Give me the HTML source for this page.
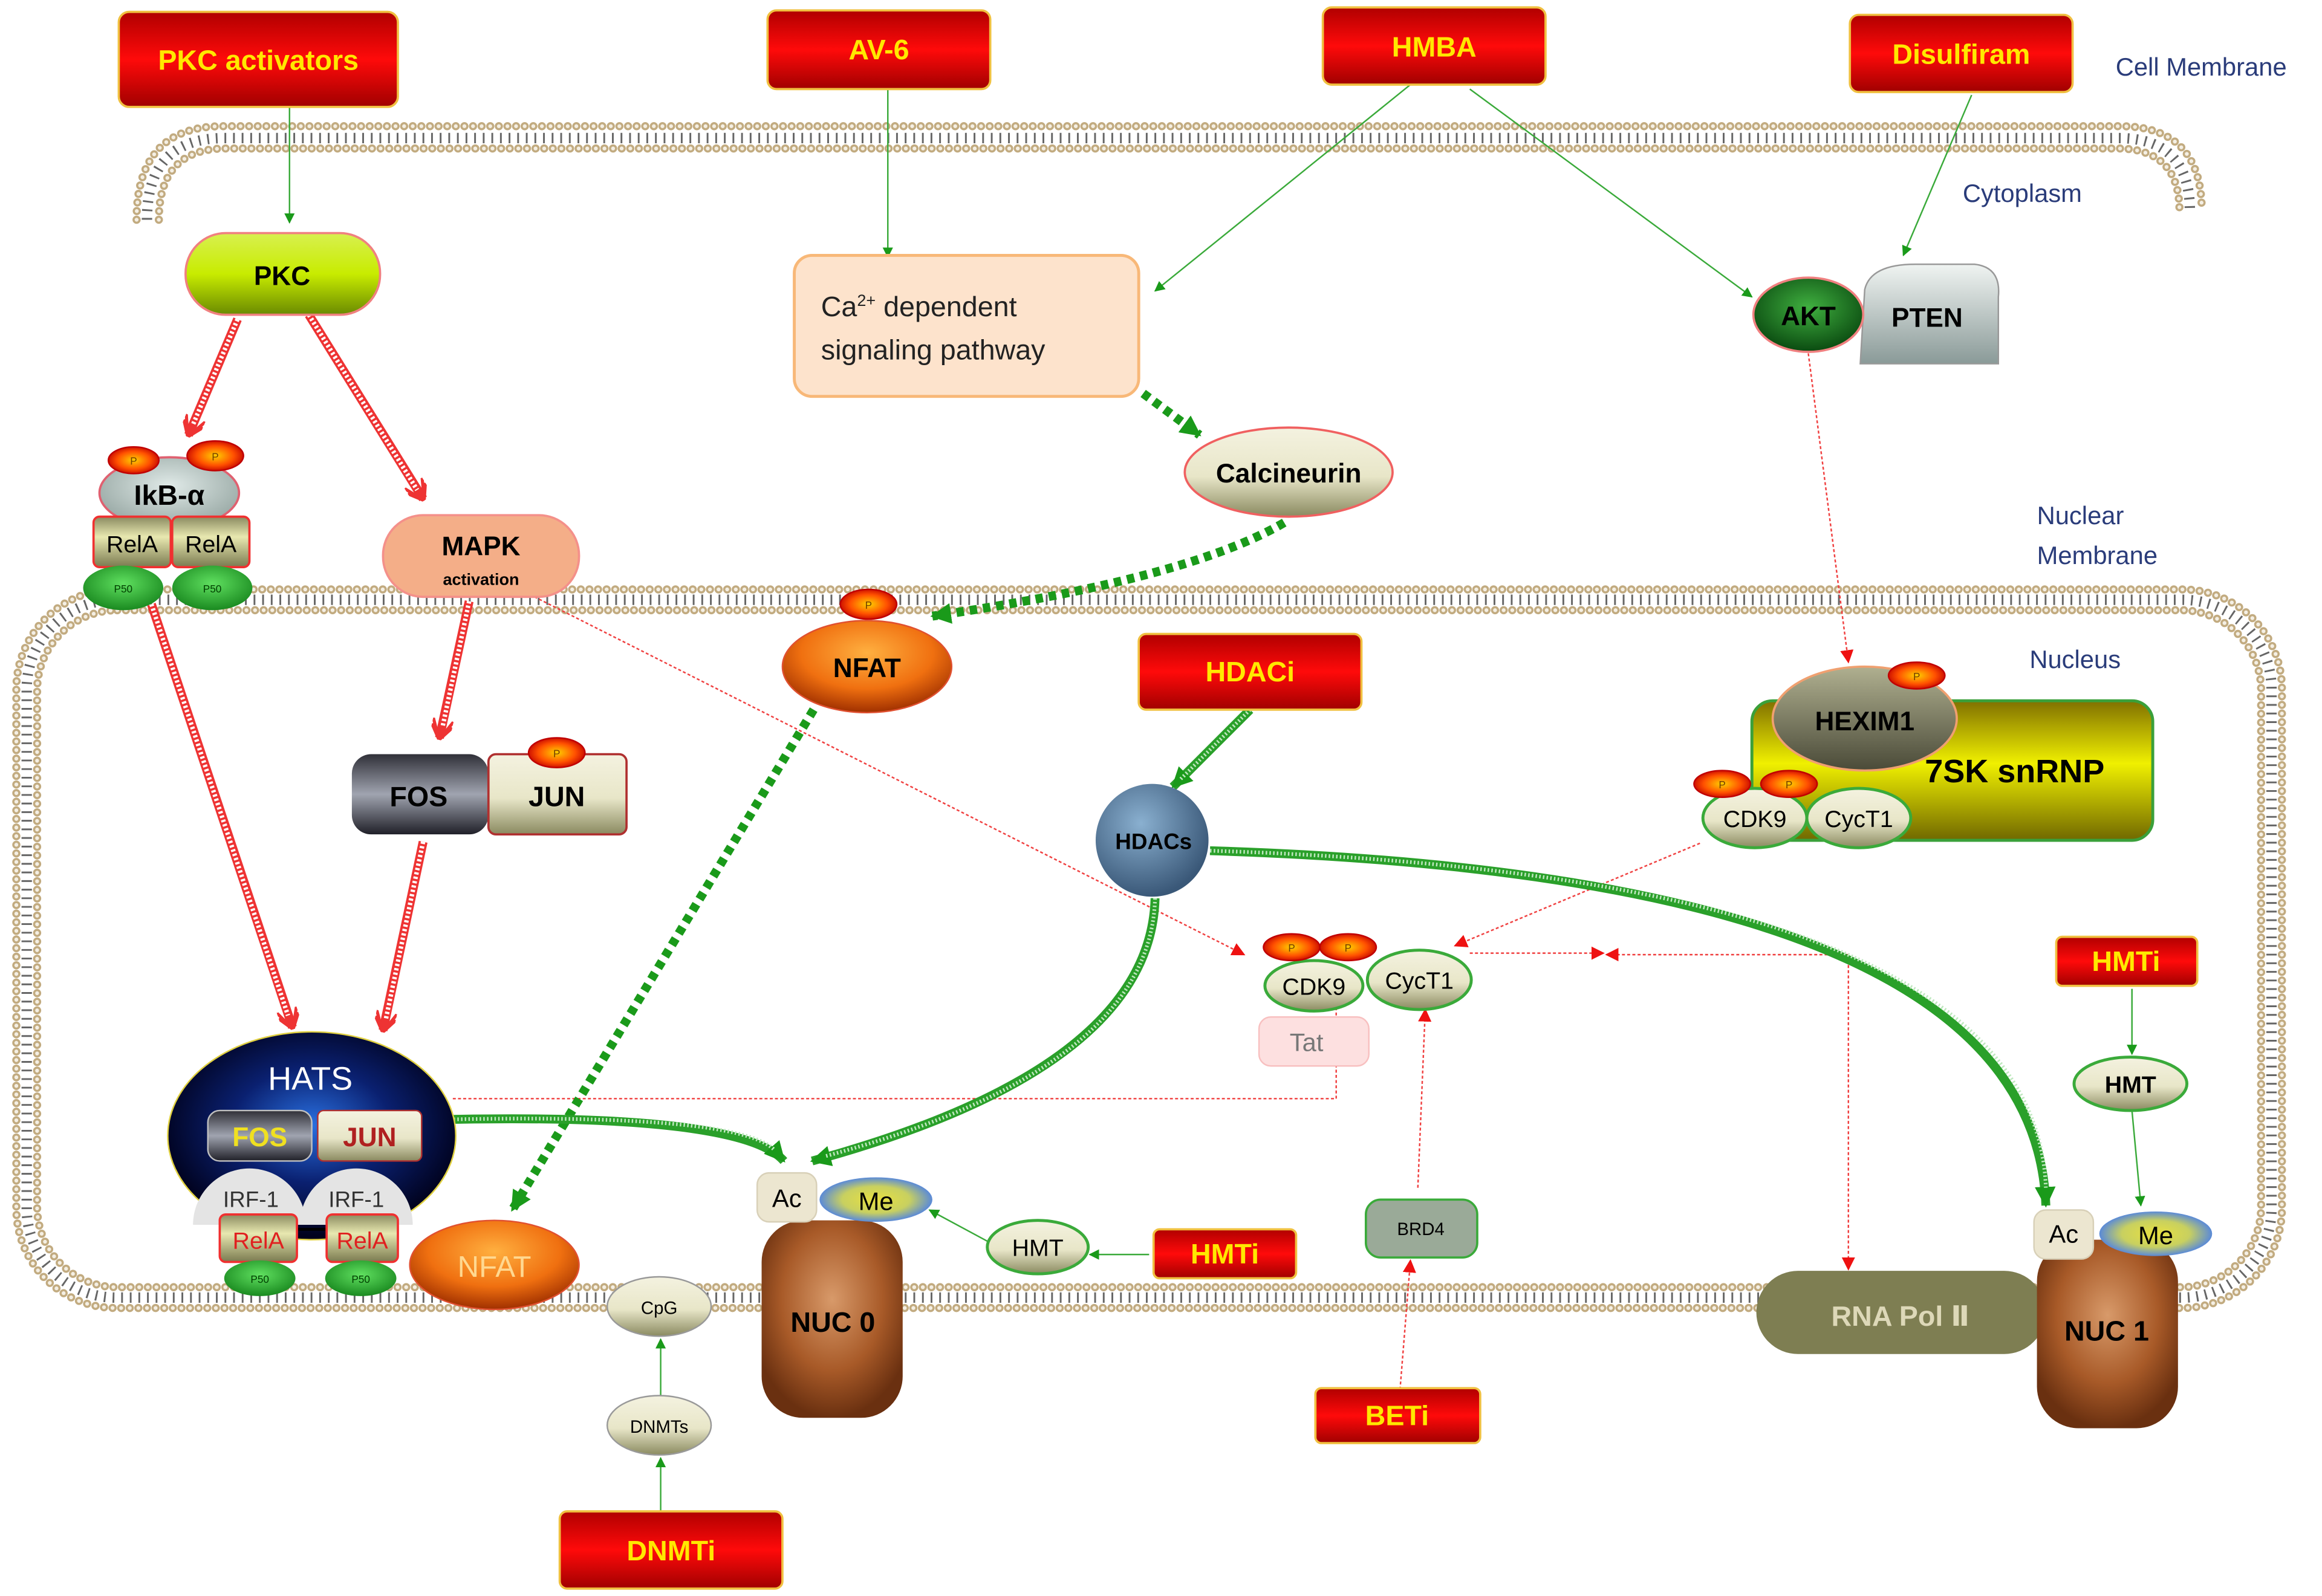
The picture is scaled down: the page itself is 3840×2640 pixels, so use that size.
<!DOCTYPE html>
<html><head><meta charset="utf-8"><style>
html,body{margin:0;padding:0;background:#fff;width:3840px;height:2640px;overflow:hidden}
svg{display:block}
text{font-family:"Liberation Sans","DejaVu Sans",sans-serif}
</style></head><body>
<svg width="3840" height="2640" viewBox="0 0 1564 1075" preserveAspectRatio="none" xmlns="http://www.w3.org/2000/svg">
<defs>
<linearGradient id="red" x1="0" y1="0" x2="0" y2="1"><stop offset="0" stop-color="#b00000"/><stop offset=".5" stop-color="#ff0a0a"/><stop offset="1" stop-color="#a00000"/></linearGradient>
<linearGradient id="pkc" x1="0" y1="0" x2="0" y2="1"><stop offset="0" stop-color="#d8f050"/><stop offset=".5" stop-color="#c8ec00"/><stop offset="1" stop-color="#6a8a00"/></linearGradient>
<linearGradient id="cream" x1="0" y1="0" x2="0" y2="1"><stop offset="0" stop-color="#f4f2e0"/><stop offset=".55" stop-color="#e8e6c8"/><stop offset="1" stop-color="#8a8a60"/></linearGradient>
<linearGradient id="rela" x1="0" y1="0" x2="0" y2="1"><stop offset="0" stop-color="#8a8a60"/><stop offset=".4" stop-color="#e8e8b0"/><stop offset="1" stop-color="#7a7a50"/></linearGradient>
<radialGradient id="green" cx=".5" cy=".4" r=".6"><stop offset="0" stop-color="#60e060"/><stop offset="1" stop-color="#1a8a20"/></radialGradient>
<radialGradient id="pp" cx=".5" cy=".5" r=".55"><stop offset="0" stop-color="#ffd000"/><stop offset=".6" stop-color="#ff5000"/><stop offset="1" stop-color="#c00000"/></radialGradient>
<radialGradient id="orange" cx=".5" cy=".35" r=".65"><stop offset="0" stop-color="#ffb040"/><stop offset=".6" stop-color="#f07010"/><stop offset="1" stop-color="#a03000"/></radialGradient>
<radialGradient id="gray" cx=".5" cy=".4" r=".6"><stop offset="0" stop-color="#e0eae8"/><stop offset="1" stop-color="#98a8a4"/></radialGradient>
<linearGradient id="hex" x1="0" y1="0" x2="0" y2="1"><stop offset="0" stop-color="#b0b090"/><stop offset="1" stop-color="#4a4a38"/></linearGradient>
<linearGradient id="yel" x1="0" y1="0" x2="0" y2="1"><stop offset="0" stop-color="#807000"/><stop offset=".45" stop-color="#f0f000"/><stop offset="1" stop-color="#706800"/></linearGradient>
<radialGradient id="hats" cx=".5" cy=".45" r=".55"><stop offset="0" stop-color="#2a70e0"/><stop offset=".5" stop-color="#0a2070"/><stop offset="1" stop-color="#000018"/></radialGradient>
<linearGradient id="fos" x1="0" y1="0" x2="0" y2="1"><stop offset="0" stop-color="#303038"/><stop offset=".5" stop-color="#a0a4b0"/><stop offset="1" stop-color="#202028"/></linearGradient>
<radialGradient id="nuc" cx=".5" cy=".4" r=".6"><stop offset="0" stop-color="#d89a6a"/><stop offset=".6" stop-color="#a85a28"/><stop offset="1" stop-color="#6a3010"/></radialGradient>
<radialGradient id="me" cx=".5" cy=".5" r=".5"><stop offset="0" stop-color="#e8e040"/><stop offset=".6" stop-color="#c8d060"/><stop offset="1" stop-color="#5a8ad8"/></radialGradient>
<radialGradient id="hdac" cx=".4" cy=".35" r=".65"><stop offset="0" stop-color="#8ab0d0"/><stop offset="1" stop-color="#3a5878"/></radialGradient>
<linearGradient id="pten" x1="0" y1="0" x2="0" y2="1"><stop offset="0" stop-color="#f0f4f2"/><stop offset="1" stop-color="#8a9a98"/></linearGradient>
<radialGradient id="akt" cx=".5" cy=".4" r=".6"><stop offset="0" stop-color="#40b040"/><stop offset="1" stop-color="#0a4a10"/></radialGradient>
<marker id="ag" viewBox="0 0 10 10" refX="9" refY="5" markerWidth="7" markerHeight="7" orient="auto" markerUnits="userSpaceOnUse"><path d="M0,0L10,5L0,10z" fill="#1a9a1a"/></marker>
<marker id="ag2" viewBox="0 0 10 10" refX="9" refY="5" markerWidth="14" markerHeight="14" orient="auto" markerUnits="userSpaceOnUse"><path d="M0,0L10,5L0,10z" fill="#1a9a1a"/></marker>
<marker id="ar" viewBox="0 0 10 10" refX="9" refY="5" markerWidth="9" markerHeight="9" orient="auto" markerUnits="userSpaceOnUse"><path d="M0,0L10,5L0,10z" fill="#ee1111"/></marker>
<marker id="arh" viewBox="0 0 10 10" refX="9" refY="5" markerWidth="14" markerHeight="14" orient="auto" markerUnits="userSpaceOnUse"><path d="M0,0L10,5L0,10M3,0L10,5L3,10" fill="none" stroke="#e33" stroke-width="1.5"/></marker>
</defs>

<!-- membranes -->
<g fill="none">
 <path d="M99 148 Q99 93 151 93 L1427 93 Q1475 93 1475 142" stroke="#666" stroke-width="7" stroke-dasharray="1.2 4.6"/>
 <path d="M92 148 Q92 85 150 85 L1428 85 Q1483 85 1483 142" stroke="#c2ab80" stroke-width="5.5" stroke-dasharray="0 5.8" stroke-linecap="round"/>
 <path d="M92 148 Q92 85 150 85 L1428 85 Q1483 85 1483 142" stroke="#f4efe4" stroke-width="2.6" stroke-dasharray="0 5.8" stroke-linecap="round"/>
 <path d="M107 148 Q107 100 152 100 L1426 100 Q1468 100 1468 142" stroke="#c2ab80" stroke-width="5.5" stroke-dasharray="0 5.8" stroke-linecap="round"/>
 <path d="M107 148 Q107 100 152 100 L1426 100 Q1468 100 1468 142" stroke="#f4efe4" stroke-width="2.6" stroke-dasharray="0 5.8" stroke-linecap="round"/>

 <rect x="18" y="404" width="1512" height="470" rx="60" stroke="#666" stroke-width="7" stroke-dasharray="1.2 4.6"/>
 <rect x="11" y="397" width="1526" height="484" rx="67" stroke="#c2ab80" stroke-width="5.5" stroke-dasharray="0 5.8" stroke-linecap="round"/>
 <rect x="11" y="397" width="1526" height="484" rx="67" stroke="#f4efe4" stroke-width="2.6" stroke-dasharray="0 5.8" stroke-linecap="round"/>
 <rect x="25" y="411" width="1498" height="456" rx="54" stroke="#c2ab80" stroke-width="5.5" stroke-dasharray="0 5.8" stroke-linecap="round"/>
 <rect x="25" y="411" width="1498" height="456" rx="54" stroke="#f4efe4" stroke-width="2.6" stroke-dasharray="0 5.8" stroke-linecap="round"/>
</g>

<!-- labels -->
<g fill="#2a3c7a" font-size="17">
<text x="1425" y="51">Cell Membrane</text>
<text x="1322" y="136">Cytoplasm</text>
<text x="1372" y="353">Nuclear</text>
<text x="1372" y="380">Membrane</text>
<text x="1367" y="450">Nucleus</text>
</g>

<!-- connectors: thin green -->
<g stroke="#3aaa3a" stroke-width="1" fill="none" marker-end="url(#ag)">
<line x1="195" y1="72" x2="195" y2="150"/>
<line x1="598" y1="60" x2="598" y2="173"/>
<line x1="950" y1="57" x2="778" y2="196"/>
<line x1="990" y1="60" x2="1180" y2="200"/>
<line x1="1328" y1="64" x2="1282" y2="172"/>
<line x1="1436" y1="666" x2="1436" y2="710"/>
<line x1="1436" y1="748" x2="1442" y2="812"/>
<line x1="774" y1="845" x2="734" y2="845"/>
<line x1="665" y1="836" x2="626" y2="815"/>
<line x1="445" y1="1018" x2="445" y2="982"/>
<line x1="445" y1="940" x2="445" y2="902"/>
</g>
<!-- red dotted -->
<g stroke="#f04040" stroke-width="1" fill="none" stroke-dasharray="2 1.5" marker-end="url(#ar)">
<line x1="1218" y1="238" x2="1245" y2="446"/>
<line x1="360" y1="402" x2="838" y2="643"/>
<line x1="1145" y1="568" x2="980" y2="637"/>
<line x1="990" y1="642" x2="1080" y2="642"/>
<line x1="1245" y1="643" x2="1082" y2="643"/>
<polyline points="1245,643 1245,855"/>
<line x1="955" y1="800" x2="960" y2="680"/>
<line x1="943" y1="936" x2="950" y2="849"/>
<polyline points="305,740 900,740 900,668" marker-end="none"/>
</g>
<!-- hatched red arrows -->
<g fill="none" marker-end="url(#arh)">
<g stroke="#e33" stroke-width="6"><path d="M160 215 L127 293"/><path d="M208 212 L285 336"/><path d="M102 407 L197 692"/><path d="M316 405 L296 497"/><path d="M285 567 L258 694"/></g>
</g>
<g fill="none" stroke="#fff" stroke-width="3" stroke-dasharray="1.5 1.5"><path d="M160 215 L130 286"/><path d="M208 212 L281 330"/><path d="M102 407 L194 684"/><path d="M316 405 L298 490"/><path d="M285 567 L260 686"/></g>
<!-- thick green dotted -->
<g stroke="#1a9a1a" stroke-width="6" stroke-dasharray="5 4" fill="none" marker-end="url(#ag2)">
<path d="M770 265 L808 293"/>
<path d="M865 352 Q800 390 628 415"/>
<path d="M548 478 L345 815"/>
</g>
<!-- thick green striped -->
<g fill="none" stroke-width="6" marker-end="url(#ag2)">
<path d="M842 478 L790 530" stroke="#2aa02a"/>
<path d="M778 605 Q775 720 547 782" stroke="#2aa02a"/>
<path d="M815 573 Q1370 590 1378 812" stroke="#2aa02a"/>
<path d="M303 754 Q500 750 528 782" stroke="#2aa02a"/>
</g>
<g fill="none" stroke="#bfe8bf" stroke-width="2.5" stroke-dasharray="1 1.5">
<path d="M842 478 L795 525"/><path d="M778 605 Q775 720 555 779"/><path d="M815 573 Q1370 590 1378 800"/><path d="M303 754 Q500 750 522 775"/>
</g>

<!-- red boxes -->
<g stroke="#f0c040" stroke-width="1.5">
<rect x="80" y="8" width="188" height="64" rx="7" fill="url(#red)"/>
<rect x="517" y="7" width="150" height="53" rx="6" fill="url(#red)"/>
<rect x="891" y="5" width="150" height="52" rx="6" fill="url(#red)"/>
<rect x="1246" y="10" width="150" height="52" rx="6" fill="url(#red)"/>
<rect x="767" y="427" width="150" height="51" rx="5" fill="url(#red)"/>
<rect x="1385" y="631" width="95" height="33" rx="4" fill="url(#red)"/>
<rect x="777" y="828" width="96" height="33" rx="4" fill="url(#red)"/>
<rect x="886" y="935" width="111" height="37" rx="4" fill="url(#red)"/>
<rect x="377" y="1018" width="150" height="52" rx="5" fill="url(#red)"/>
</g>
<g fill="#ffe800" font-weight="bold" font-size="19" text-anchor="middle">
<text x="174" y="47">PKC activators</text>
<text x="592" y="40">AV-6</text>
<text x="966" y="38">HMBA</text>
<text x="1321" y="43">Disulfiram</text>
<text x="842" y="459">HDACi</text>
<text x="1432" y="654">HMTi</text>
<text x="825" y="851">HMTi</text>
<text x="941" y="960">BETi</text>
<text x="452" y="1051">DNMTi</text>
</g>

<!-- PKC -->
<rect x="125" y="157" width="131" height="55" rx="27" fill="url(#pkc)" stroke="#f08080" stroke-width="1.5"/>
<text x="190" y="192" font-size="18" font-weight="bold" text-anchor="middle">PKC</text>
<!-- Ca box -->
<rect x="535" y="172" width="232" height="95" rx="12" fill="#fde3cc" stroke="#f8b878" stroke-width="2"/>
<text x="553" y="213" font-size="19" fill="#222">Ca<tspan dy="-7" font-size="11">2+</tspan><tspan dy="7"> dependent</tspan></text>
<text x="553" y="242" font-size="19" fill="#222">signaling pathway</text>
<!-- Calcineurin -->
<ellipse cx="868" cy="318" rx="70" ry="30" fill="url(#cream)" stroke="#f06060" stroke-width="1.5"/>
<text x="868" y="325" font-size="18" font-weight="bold" text-anchor="middle">Calcineurin</text>
<!-- AKT PTEN -->
<path d="M1253 245 L1256 195 Q1260 178 1290 178 L1330 178 Q1348 180 1346 200 L1346 245 Z" fill="url(#pten)" stroke="#999"/>
<text x="1298" y="220" font-size="18" font-weight="bold" text-anchor="middle">PTEN</text>
<ellipse cx="1218" cy="212" rx="37" ry="25" fill="url(#akt)" stroke="#f08080" stroke-width="1.5"/>
<text x="1218" y="219" font-size="18" font-weight="bold" text-anchor="middle">AKT</text>

<!-- IkB complex -->
<ellipse cx="114" cy="332" rx="47" ry="24" fill="url(#gray)" stroke="#e06070" stroke-width="1.5"/>
<text x="114" y="340" font-size="19" font-weight="bold" text-anchor="middle">IkB-α</text>
<rect x="63" y="348" width="52" height="34" rx="4" fill="url(#rela)" stroke="#f03030" stroke-width="1.5"/>
<rect x="116" y="348" width="52" height="34" rx="4" fill="url(#rela)" stroke="#f03030" stroke-width="1.5"/>
<text x="89" y="372" font-size="16" text-anchor="middle">RelA</text>
<text x="142" y="372" font-size="16" text-anchor="middle">RelA</text>
<ellipse cx="83" cy="396" rx="27" ry="15" fill="url(#green)"/>
<ellipse cx="143" cy="396" rx="27" ry="15" fill="url(#green)"/>
<!-- MAPK -->
<rect x="258" y="347" width="132" height="55" rx="27" fill="#f4ae88" stroke="#f4908a" stroke-width="1.5"/>
<text x="324" y="374" font-size="18" font-weight="bold" text-anchor="middle">MAPK</text>
<text x="324" y="394" font-size="11" font-weight="bold" text-anchor="middle">activation</text>
<!-- NFAT top -->
<ellipse cx="584" cy="449" rx="57" ry="31" fill="url(#orange)" stroke="#e05030"/>
<text x="584" y="456" font-size="18" font-weight="bold" text-anchor="middle">NFAT</text>
<!-- HEXIM / 7SK -->
<rect x="1180" y="472" width="270" height="94" rx="14" fill="url(#yel)" stroke="#3aa03a" stroke-width="2"/>
<text x="1357" y="527" font-size="22" font-weight="bold" text-anchor="middle">7SK snRNP</text>
<ellipse cx="1256" cy="484" rx="62" ry="35" fill="url(#hex)" stroke="#f0a070" stroke-width="1.5"/>
<text x="1256" y="492" font-size="18" font-weight="bold" text-anchor="middle">HEXIM1</text>
<ellipse cx="1182" cy="551" rx="35" ry="20" fill="url(#cream)" stroke="#3aaa3a" stroke-width="2"/>
<ellipse cx="1252" cy="551" rx="35" ry="20" fill="url(#cream)" stroke="#3aaa3a" stroke-width="2"/>
<text x="1182" y="557" font-size="16" text-anchor="middle">CDK9</text>
<text x="1252" y="557" font-size="16" text-anchor="middle">CycT1</text>
<!-- FOS JUN -->
<rect x="237" y="508" width="92" height="54" rx="13" fill="url(#fos)"/>
<rect x="329" y="508" width="93" height="54" rx="5" fill="url(#cream)" stroke="#b03030" stroke-width="1.5"/>
<text x="282" y="543" font-size="19" font-weight="bold" text-anchor="middle">FOS</text>
<text x="375" y="543" font-size="19" font-weight="bold" text-anchor="middle">JUN</text>
<!-- HDACs -->
<circle cx="776" cy="566" r="38" fill="url(#hdac)"/>
<text x="777" y="572" font-size="15" font-weight="bold" text-anchor="middle">HDACs</text>
<!-- CDK9 center -->
<rect x="848" y="685" width="74" height="33" rx="8" fill="#fde0e0" stroke="#f8c0c0"/>
<text x="880" y="708" font-size="17" fill="#777" text-anchor="middle">Tat</text>
<ellipse cx="885" cy="664" rx="33" ry="17" fill="url(#cream)" stroke="#3aaa3a" stroke-width="2"/>
<ellipse cx="956" cy="660" rx="35" ry="20" fill="url(#cream)" stroke="#3aaa3a" stroke-width="2"/>
<text x="885" y="670" font-size="16" text-anchor="middle">CDK9</text>
<text x="956" y="666" font-size="16" text-anchor="middle">CycT1</text>
<!-- HMT right -->
<ellipse cx="1435" cy="730" rx="38" ry="18" fill="url(#cream)" stroke="#3aaa3a" stroke-width="2"/>
<text x="1435" y="736" font-size="16" font-weight="bold" text-anchor="middle">HMT</text>
<!-- HATS -->
<ellipse cx="210" cy="765" rx="97" ry="70" fill="url(#hats)" stroke="#e0d040" stroke-width="1"/>
<text x="209" y="734" font-size="22" fill="#fff" text-anchor="middle">HATS</text>
<rect x="140" y="748" width="70" height="34" rx="8" fill="url(#fos)" stroke="#c0c0c0"/>
<rect x="214" y="748" width="70" height="34" rx="4" fill="url(#cream)" stroke="#b03030"/>
<text x="175" y="772" font-size="18" font-weight="bold" fill="#f0e020" text-anchor="middle">FOS</text>
<text x="249" y="772" font-size="18" font-weight="bold" fill="#b02020" text-anchor="middle">JUN</text>
<path d="M130 825 A38 38 0 0 1 206 825 Z" fill="#e4e4e4"/>
<path d="M202 825 A38 38 0 0 1 278 825 Z" fill="#e4e4e4"/>
<text x="169" y="813" font-size="15" fill="#333" text-anchor="middle">IRF-1</text>
<text x="240" y="813" font-size="15" fill="#333" text-anchor="middle">IRF-1</text>
<line x1="200" y1="828" x2="220" y2="828" stroke="#000" stroke-width="2"/>
<rect x="148" y="818" width="52" height="32" rx="4" fill="url(#rela)" stroke="#f03030" stroke-width="1.5"/>
<rect x="220" y="818" width="48" height="32" rx="4" fill="url(#rela)" stroke="#f03030" stroke-width="1.5"/>
<text x="174" y="841" font-size="16" fill="#e02020" text-anchor="middle">RelA</text>
<text x="244" y="841" font-size="16" fill="#e02020" text-anchor="middle">RelA</text>
<ellipse cx="175" cy="861" rx="24" ry="12" fill="url(#green)"/>
<ellipse cx="243" cy="861" rx="24" ry="12" fill="url(#green)"/>
<!-- NFAT lower -->
<ellipse cx="333" cy="852" rx="57" ry="30" fill="url(#orange)" stroke="#e05030"/>
<text x="333" y="860" font-size="20" fill="#ffd890" text-anchor="middle">NFAT</text>
<!-- NUC0 -->
<rect x="513" y="822" width="95" height="133" rx="28" fill="url(#nuc)"/>
<text x="561" y="897" font-size="19" font-weight="bold" text-anchor="middle">NUC 0</text>
<rect x="510" y="790" width="40" height="33" rx="8" fill="#ece6d0" stroke="#d8d0b8"/>
<text x="530" y="813" font-size="17" text-anchor="middle">Ac</text>
<ellipse cx="590" cy="808" rx="38" ry="15" fill="url(#me)"/>
<text x="590" y="815" font-size="17" text-anchor="middle">Me</text>
<ellipse cx="699" cy="840" rx="34" ry="18" fill="url(#cream)" stroke="#3aaa3a" stroke-width="2"/>
<text x="699" y="846" font-size="16" text-anchor="middle">HMT</text>
<!-- CpG DNMTs -->
<ellipse cx="444" cy="880" rx="35" ry="20" fill="url(#cream)" stroke="#999"/>
<text x="444" y="885" font-size="12" text-anchor="middle">CpG</text>
<ellipse cx="444" cy="960" rx="35" ry="20" fill="url(#cream)" stroke="#999"/>
<text x="444" y="965" font-size="12" text-anchor="middle">DNMTs</text>
<!-- BRD4 -->
<rect x="920" y="808" width="75" height="39" rx="10" fill="#9aaa98" stroke="#3aaa3a" stroke-width="1.5"/>
<text x="957" y="832" font-size="12" text-anchor="middle">BRD4</text>
<!-- RNA pol / NUC1 -->
<rect x="1183" y="856" width="195" height="56" rx="28" fill="#7e7e52"/>
<text x="1280" y="893" font-size="19" font-weight="bold" fill="#ddd8b8" text-anchor="middle">RNA Pol Ⅱ</text>
<rect x="1372" y="835" width="95" height="127" rx="28" fill="url(#nuc)"/>
<text x="1419" y="903" font-size="19" font-weight="bold" text-anchor="middle">NUC 1</text>
<rect x="1370" y="815" width="40" height="33" rx="8" fill="#ece6d0" stroke="#d8d0b8"/>
<text x="1390" y="837" font-size="17" text-anchor="middle">Ac</text>
<ellipse cx="1452" cy="831" rx="38" ry="15" fill="url(#me)"/>
<text x="1452" y="838" font-size="17" text-anchor="middle">Me</text>

<!-- phosphates -->
<g fill="url(#pp)" stroke="#c00000">
<ellipse cx="90" cy="310" rx="17" ry="9"/><ellipse cx="145" cy="307" rx="19" ry="10"/>
<ellipse cx="585" cy="407" rx="19" ry="10"/>
<ellipse cx="375" cy="507" rx="19" ry="10"/>
<ellipse cx="1291" cy="455" rx="19" ry="9"/>
<ellipse cx="1160" cy="528" rx="19" ry="9"/><ellipse cx="1205" cy="528" rx="19" ry="9"/>
<ellipse cx="870" cy="638" rx="19" ry="9"/><ellipse cx="908" cy="638" rx="19" ry="9"/>
</g>
<g font-size="7" fill="#704000" text-anchor="middle">
<text x="90" y="313">P</text><text x="145" y="310">P</text><text x="585" y="410">P</text><text x="375" y="510">P</text><text x="1291" y="458">P</text><text x="1160" y="531">P</text><text x="1205" y="531">P</text><text x="870" y="641">P</text><text x="908" y="641">P</text>
</g>
<g font-size="7" fill="#004000" text-anchor="middle"><text x="83" y="399">P50</text><text x="143" y="399">P50</text><text x="175" y="864">P50</text><text x="243" y="864">P50</text></g>
</svg>
</body></html>
